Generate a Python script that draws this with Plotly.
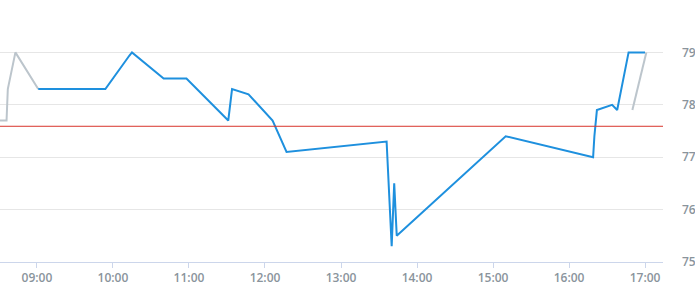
import plotly.graph_objects as go

DAY = "2024-01-01 "

# Main (blue) series
blue_times = ["09:01", "09:54", "10:13", "10:15", "10:40", "10:58", "11:31", "11:34",
              "11:47", "12:06", "12:17", "13:36", "13:40", "13:42", "13:44", "15:10",
              "16:19", "16:20", "16:22", "16:34", "16:38", "16:47", "17:00"]
blue_values = [78.3, 78.3, 78.94, 79.0, 78.5, 78.5, 77.7, 78.3,
               78.2, 77.7, 77.1, 77.3, 75.3, 76.5, 75.5, 77.4,
               77.0, 77.4, 77.9, 78.0, 77.9, 79.0, 79.0]

# Secondary (grey) series, two pieces
grey_times_a = ["08:25", "08:36", "08:37", "08:43", "09:01"]
grey_values_a = [77.7, 77.7, 78.3, 79.0, 78.3]
grey_times_b = ["16:50", "17:01"]
grey_values_b = [77.9, 79.0]

threshold = 77.59

y_ticks = [75, 76, 77, 78, 79]
x_ticks = ["09:00", "10:00", "11:00", "12:00", "13:00", "14:00", "15:00", "16:00", "17:00"]

label_color = "#8a949c"

fig = go.Figure()
fig.add_trace(go.Scatter(
    x=[DAY + t for t in grey_times_a] + [None] + [DAY + t for t in grey_times_b],
    y=grey_values_a + [None] + grey_values_b,
    mode="lines", line=dict(color="#bcc5cc", width=2), connectgaps=False,
    hoverinfo="skip", showlegend=False))
fig.add_trace(go.Scatter(
    x=[DAY + t for t in blue_times], y=blue_values,
    mode="lines", line=dict(color="#1e90de", width=2), showlegend=False))

fig.add_shape(type="line", xref="paper", yref="y", x0=0, x1=1, y0=threshold, y1=threshold,
              line=dict(color="#d9342b", width=1), layer="above")

fig.update_layout(
    width=695, height=300,
    margin=dict(l=0, r=32, t=0, b=38),
    paper_bgcolor="white", plot_bgcolor="white",
    font=dict(family="Open Sans", size=12, color=label_color),
    showlegend=False,
)
fig.update_xaxes(
    type="date",
    range=[DAY + "08:30:50", DAY + "17:14:10"],
    tickvals=[DAY + t for t in x_ticks], ticktext=x_ticks,
    showgrid=False, zeroline=False,
    showline=True, linecolor="#ccd6eb", linewidth=1,
    ticks="outside", ticklen=5, tickcolor="#ccd6eb",
    tickfont=dict(family="Open Sans", size=12, color=label_color, weight=600),
)
fig.update_yaxes(
    range=[75, 80], side="right",
    tickvals=y_ticks,
    showgrid=True, gridcolor="#e6e6e6", gridwidth=1,
    zeroline=False, showline=False, ticks="",
    ticklabelstandoff=18,
    tickfont=dict(family="Open Sans", size=12, color=label_color, weight=600),
)

fig.write_html("out.html")
